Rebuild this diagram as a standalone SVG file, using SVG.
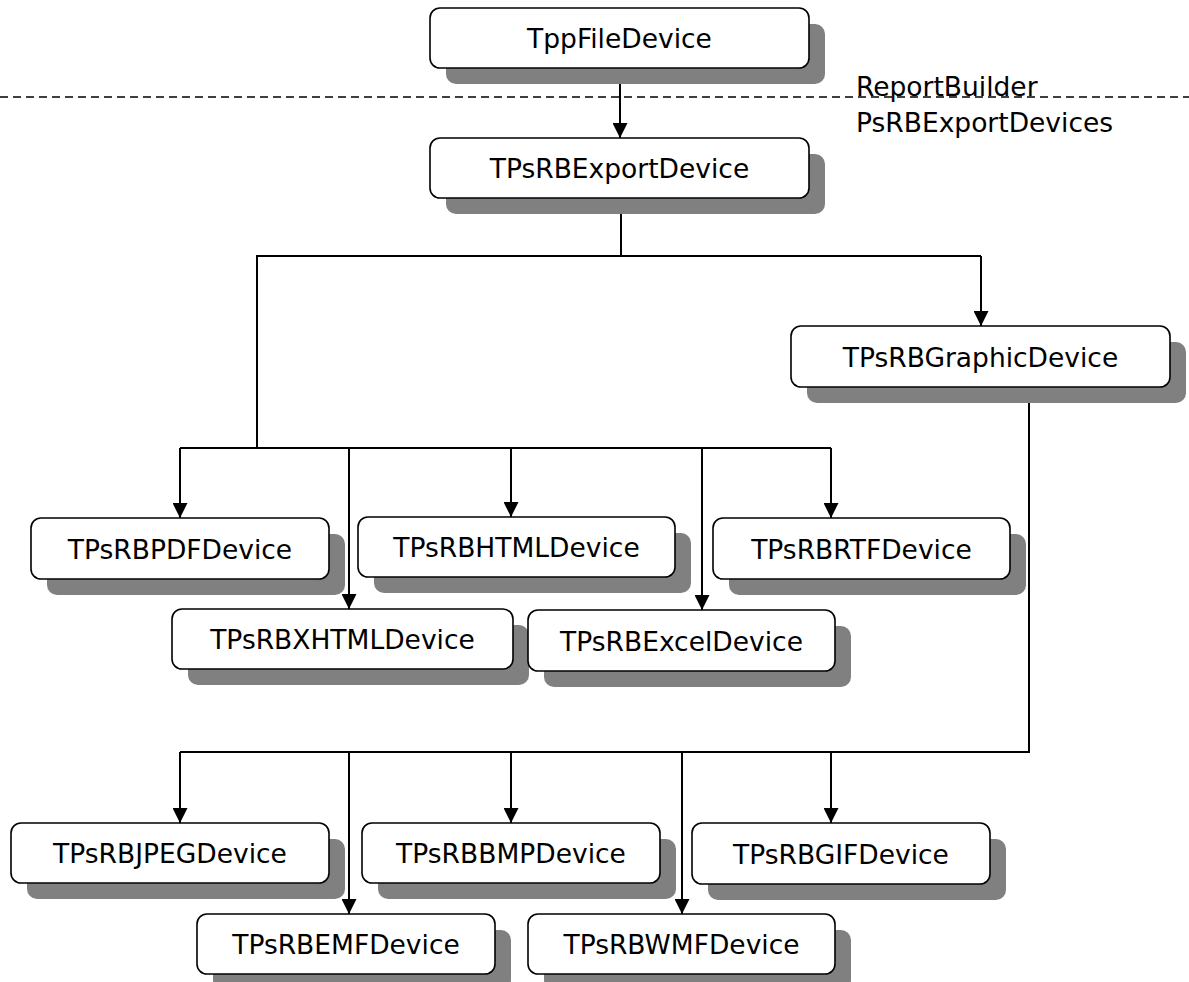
<svg xmlns="http://www.w3.org/2000/svg" width="1189" height="982" viewBox="0 0 1189 982">
<style>
.sh{fill:#808080;}
.bx{fill:#fff;stroke:#000;stroke-width:1.6;}
.t{font-family:"DejaVu Sans",Verdana,sans-serif;font-size:26.5px;text-anchor:middle;fill:#000;}
.lbl{font-family:"DejaVu Sans",Verdana,sans-serif;font-size:26.5px;fill:#000;}
.c{fill:none;stroke:#000;stroke-width:2;}
.a{fill:none;stroke:#000;stroke-width:2;marker-end:url(#ah);}
</style>
<defs>
<marker id="ah" markerUnits="userSpaceOnUse" markerWidth="15" markerHeight="15" viewBox="0 0 15 15" refX="15" refY="7.5" orient="auto">
<path d="M0,0 L15,7.5 L0,15 Z" fill="#000"/>
</marker>
</defs>
<rect width="1189" height="982" fill="#fff"/>
<line x1="0" y1="97" x2="1189" y2="97" stroke="#000" stroke-width="1.5" stroke-dasharray="8,5"/>
<text class="lbl" x="856" y="96">ReportBuilder</text>
<text class="lbl" x="856" y="132">PsRBExportDevices</text>
<g id="connectors">
<line class="a" x1="620" y1="68" x2="620" y2="138"/>
<line class="c" x1="621" y1="198" x2="621" y2="256"/>
<polyline class="c" points="257,448 257,256 981,256"/>
<line class="a" x1="981" y1="256" x2="981" y2="326"/>
<line class="c" x1="180" y1="448" x2="831" y2="448"/>
<line class="a" x1="180" y1="448" x2="180" y2="518"/>
<line class="a" x1="349" y1="448" x2="349" y2="609"/>
<line class="a" x1="511" y1="448" x2="511" y2="517"/>
<line class="a" x1="702" y1="448" x2="702" y2="610"/>
<line class="a" x1="831" y1="448" x2="831" y2="518"/>
<polyline class="c" points="1029,387 1029,752 180,752"/>
<line class="a" x1="180" y1="752" x2="180" y2="823"/>
<line class="a" x1="349" y1="752" x2="349" y2="914"/>
<line class="a" x1="511" y1="752" x2="511" y2="823"/>
<line class="a" x1="682" y1="752" x2="682" y2="914"/>
<line class="a" x1="831" y1="752" x2="831" y2="823"/>
</g>
<g id="TppFileDevice"><rect class="sh" x="446" y="24" width="379" height="60" rx="10"/><rect class="bx" x="430" y="8" width="379" height="60" rx="10"/><text class="t" x="619.5" y="48">TppFileDevice</text></g>
<g id="TPsRBExportDevice"><rect class="sh" x="446" y="154" width="379" height="60" rx="10"/><rect class="bx" x="430" y="138" width="379" height="60" rx="10"/><text class="t" x="619.5" y="178">TPsRBExportDevice</text></g>
<g id="TPsRBGraphicDevice"><rect class="sh" x="807" y="342" width="379" height="61" rx="10"/><rect class="bx" x="791" y="326" width="379" height="61" rx="10"/><text class="t" x="980.5" y="366.5">TPsRBGraphicDevice</text></g>
<g id="TPsRBPDFDevice"><rect class="sh" x="47" y="534" width="298" height="61" rx="10"/><rect class="bx" x="31" y="518" width="298" height="61" rx="10"/><text class="t" x="180" y="558.5">TPsRBPDFDevice</text></g>
<g id="TPsRBHTMLDevice"><rect class="sh" x="374" y="533" width="317" height="60" rx="10"/><rect class="bx" x="358" y="517" width="317" height="60" rx="10"/><text class="t" x="516.5" y="557">TPsRBHTMLDevice</text></g>
<g id="TPsRBRTFDevice"><rect class="sh" x="729" y="534" width="297" height="61" rx="10"/><rect class="bx" x="713" y="518" width="297" height="61" rx="10"/><text class="t" x="861.5" y="558.5">TPsRBRTFDevice</text></g>
<g id="TPsRBXHTMLDevice"><rect class="sh" x="188" y="625" width="341" height="60" rx="10"/><rect class="bx" x="172" y="609" width="341" height="60" rx="10"/><text class="t" x="342.5" y="649">TPsRBXHTMLDevice</text></g>
<g id="TPsRBExcelDevice"><rect class="sh" x="544" y="626" width="307" height="61" rx="10"/><rect class="bx" x="528" y="610" width="307" height="61" rx="10"/><text class="t" x="681.5" y="650.5">TPsRBExcelDevice</text></g>
<g id="TPsRBJPEGDevice"><rect class="sh" x="27" y="839" width="318" height="60" rx="10"/><rect class="bx" x="11" y="823" width="318" height="60" rx="10"/><text class="t" x="170" y="863">TPsRBJPEGDevice</text></g>
<g id="TPsRBBMPDevice"><rect class="sh" x="378" y="839" width="298" height="60" rx="10"/><rect class="bx" x="362" y="823" width="298" height="60" rx="10"/><text class="t" x="511" y="863">TPsRBBMPDevice</text></g>
<g id="TPsRBGIFDevice"><rect class="sh" x="708" y="839" width="298" height="61" rx="10"/><rect class="bx" x="692" y="823" width="298" height="61" rx="10"/><text class="t" x="841" y="863.5">TPsRBGIFDevice</text></g>
<g id="TPsRBEMFDevice"><rect class="sh" x="213" y="930" width="298" height="60" rx="10"/><rect class="bx" x="197" y="914" width="298" height="60" rx="10"/><text class="t" x="346" y="954">TPsRBEMFDevice</text></g>
<g id="TPsRBWMFDevice"><rect class="sh" x="544" y="930" width="307" height="60" rx="10"/><rect class="bx" x="528" y="914" width="307" height="60" rx="10"/><text class="t" x="681.5" y="954">TPsRBWMFDevice</text></g>
</svg>
